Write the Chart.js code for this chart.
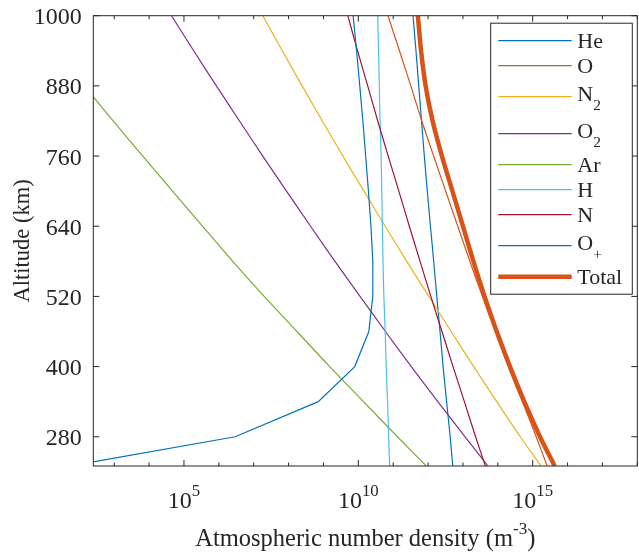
<!DOCTYPE html>
<html>
<head>
<meta charset="utf-8">
<script src="https://cdn.jsdelivr.net/npm/chart.js@4.4.1/dist/chart.umd.min.js"></script>
<style>
  html, body { margin: 0; padding: 0; background: #fff; }
  canvas { display: block; }
</style>
</head>
<body>
<canvas id="chart" width="639" height="554"></canvas>
<script>
// altitude grid (km), shared by every profile
const altitudes = [230, 280, 340, 400, 460, 520, 580, 640, 700, 760, 820, 880, 940, 1000];

// number densities (m^-3)
const nHe    = [5.1e12, 4.3e12, 3.4e12, 2.7e12, 2.2e12, 1.78e12, 1.45e12, 1.17e12, 9.5e11, 7.8e11, 6.5e11, 5.4e11, 4.5e11, 3.7e11];
const nO     = [2.6e15, 1.26e15, 5.1e14, 2.0e14, 8.5e13, 3.6e13, 1.58e13, 7.1e12, 3.2e12, 1.45e12, 6.6e11, 3.2e11, 1.51e11, 7.1e10];
const nN2    = [1.74e15, 4.4e14, 9.3e13, 2.04e13, 4.6e12, 1.05e12, 2.45e11, 5.9e10, 1.45e10, 3.6e9, 9.3e8, 2.45e8, 6.6e7, 1.82e7];
const nO2    = [5.2e13, 1.15e13, 1.9e12, 3.3e11, 6.0e10, 1.12e10, 2.14e9, 4.27e8, 8.7e7, 1.82e7, 3.9e6, 8.5e5, 1.9e5, 4.4e4];
const nAr    = [8.9e11, 1.32e11, 1.41e10, 1.51e9, 1.74e8, 2.0e7, 2.5e6, 3.4e5, 4.7e4, 6.6e3, 930, 138, 20, 2.9];
const nH     = [7.9e10, 7.4e10, 6.9e10, 6.3e10, 5.9e10, 5.4e10, 5.1e10, 4.9e10, 4.7e10, 4.5e10, 4.2e10, 4.0e10, 3.8e10, 3.6e10];
const nN     = [4.4e13, 2.3e13, 1.1e13, 5.2e12, 2.5e12, 1.2e12, 5.9e11, 2.9e11, 1.45e11, 7.2e10, 3.6e10, 1.86e10, 9.5e9, 5.0e9];
const nOplus = [54, 2.95e6, 7.1e8, 7.9e9, 2.0e10, 2.6e10, 2.6e10, 2.3e10, 1.95e10, 1.62e10, 1.35e10, 1.1e10, 8.9e9, 7.1e9];
const nTotal = [4.27e15, 1.62e15, 5.75e14, 2.24e14, 9.3e13, 4.17e13, 2.0e13, 1.0e13, 5.0e12, 2.5e12, 1.35e12, 8.5e11, 6.3e11, 5.1e11];

const speciesLabels = ['He', 'O', 'N_2', 'O_2', 'Ar', 'H', 'N', 'O_+', 'Total'];

// axis ticks
const xTickExponents = [5, 10, 15];
const yTicks = [280, 400, 520, 640, 760, 880, 1000];
const xRange = [Math.pow(10, 2.4), 1e18];
const yRange = [230, 1000];

const series = [nHe, nO, nN2, nO2, nAr, nH, nN, nOplus, nTotal];
const colors = ['#0072BD', '#D95319', '#EDB120', '#7E2F8E', '#77AC30', '#4DBEEE', '#A2142F', '#0072BD', '#D95319'];
// O+ profile has visible corners, keep it straight-segmented
const kinked = [false, false, false, false, false, false, false, true, false];

const axisColor = '#262626';
const serif = '"Liberation Serif", "Times New Roman", serif';

// tiny TeX-ish parser: handles ^{..} / _{..} / ^x / _x
function texRuns(str) {
  const runs = [];
  const re = /([_^])\{([^}]*)\}|([_^])(.)|([^_^]+)/g;
  let m;
  while ((m = re.exec(str))) {
    if (m[1]) runs.push({ t: m[2], mode: m[1] });
    else if (m[3]) runs.push({ t: m[4], mode: m[3] });
    else runs.push({ t: m[5], mode: '' });
  }
  return runs;
}

function drawTex(ctx, str, x, y, size, align) {
  const runs = texRuns(str);
  const small = size * 0.7;
  let w = 0;
  runs.forEach(r => {
    ctx.font = (r.mode ? small : size) + 'px ' + serif;
    r.w = ctx.measureText(r.t).width;
    w += r.w;
  });
  let cx = align === 'center' ? x - w / 2 : (align === 'right' ? x - w : x);
  ctx.textAlign = 'left';
  ctx.textBaseline = 'alphabetic';
  runs.forEach(r => {
    ctx.font = (r.mode ? small : size) + 'px ' + serif;
    const dy = r.mode === '^' ? -0.48 * size : (r.mode === '_' ? 0.42 * size : 0);
    ctx.fillText(r.t, cx, y + dy);
    cx += r.w;
  });
}

function seg(ctx, x1, y1, x2, y2) {
  ctx.beginPath();
  ctx.moveTo(x1, y1);
  ctx.lineTo(x2, y2);
  ctx.stroke();
}

const matlabAxes = {
  id: 'matlabAxes',
  beforeDraw(chart) {
    const ctx = chart.ctx;
    ctx.save();
    ctx.fillStyle = '#fff';
    ctx.fillRect(0, 0, chart.width, chart.height);
    ctx.restore();
  },
  afterDatasetsDraw(chart) {
    const { ctx, chartArea: a, scales: { x, y } } = chart;
    ctx.save();
    ctx.strokeStyle = axisColor;
    ctx.fillStyle = axisColor;
    ctx.lineWidth = 1;
    ctx.strokeRect(a.left, a.top, a.right - a.left, a.bottom - a.top);

    // decade ticks, inward, top and bottom
    const e0 = Math.ceil(Math.log10(xRange[0]));
    const e1 = Math.floor(Math.log10(xRange[1]));
    for (let e = e0; e <= e1; e++) {
      const px = x.getPixelForValue(Math.pow(10, e));
      const len = xTickExponents.includes(e) ? 6 : 3.5;
      seg(ctx, px, a.bottom, px, a.bottom - len);
      seg(ctx, px, a.top, px, a.top + len);
    }
    yTicks.forEach(v => {
      const py = y.getPixelForValue(v);
      seg(ctx, a.left, py, a.left + 6, py);
      seg(ctx, a.right, py, a.right - 6, py);
    });

    // tick labels
    xTickExponents.forEach(e => {
      drawTex(ctx, '10^{' + e + '}', x.getPixelForValue(Math.pow(10, e)), a.bottom + 42, 24, 'center');
    });
    ctx.font = '24px ' + serif;
    ctx.textAlign = 'right';
    ctx.textBaseline = 'alphabetic';
    yTicks.forEach(v => {
      ctx.fillText(String(v), a.left - 11.5, y.getPixelForValue(v) + 8.5);
    });

    // axis titles
    drawTex(ctx, 'Atmospheric number density (m^{-3})', (a.left + a.right) / 2, 546, 24.5, 'center');
    ctx.save();
    ctx.translate(28.5, (a.top + a.bottom) / 2);
    ctx.rotate(-Math.PI / 2);
    ctx.font = '22.5px ' + serif;
    ctx.textAlign = 'center';
    ctx.textBaseline = 'alphabetic';
    ctx.fillText('Altitude (km)', 0, 0);
    ctx.restore();

    // legend box, top right inside the axes
    const heights = speciesLabels.map(l => (l.indexOf('_') >= 0 ? 37 : 25));
    const centers = [];
    let c = 40.7;
    heights.forEach((h, i) => {
      if (i > 0) c += (heights[i - 1] + h) / 2;
      centers.push(c);
    });
    const boxL = 490.7, boxR = a.right - 5;
    const boxT = centers[0] - heights[0] / 2 - 5;
    const boxB = centers[centers.length - 1] + heights[heights.length - 1] / 2 + 5;
    ctx.fillStyle = '#fff';
    ctx.fillRect(boxL, boxT, boxR - boxL, boxB - boxT);
    ctx.strokeStyle = axisColor;
    ctx.lineWidth = 1;
    ctx.strokeRect(boxL, boxT, boxR - boxL, boxB - boxT);
    chart.data.datasets.forEach((ds, i) => {
      const cy = centers[i];
      ctx.strokeStyle = ds.borderColor;
      ctx.lineWidth = ds.borderWidth;
      seg(ctx, boxL + 7.6, cy, boxL + 81, cy);
      ctx.fillStyle = axisColor;
      const sub = speciesLabels[i].indexOf('_') >= 0;
      drawTex(ctx, speciesLabels[i], boxL + 86.6, cy + (sub ? 4.5 : 7.5), 22, 'left');
    });
    ctx.restore();
  }
};

const datasets = series.map((vals, i) => ({
  label: speciesLabels[i],
  data: vals.map((v, k) => ({ x: v, y: altitudes[k] })),
  borderColor: colors[i],
  borderWidth: i === series.length - 1 ? 4.5 : 1.2,
  pointRadius: 0,
  showLine: true,
  fill: false,
  tension: kinked[i] ? 0 : 0.3,
  clip: 0,
  order: series.length - i
}));

new Chart(document.getElementById('chart'), {
  type: 'scatter',
  data: { datasets: datasets },
  options: {
    responsive: false,
    animation: false,
    events: [],
    layout: { padding: { left: 93.3, right: 1.7, top: 15.7, bottom: 88 } },
    elements: { line: { capBezierPoints: false } },
    plugins: { legend: { display: false }, tooltip: { enabled: false }, title: { display: false } },
    scales: {
      x: { type: 'logarithmic', min: xRange[0], max: xRange[1], display: false },
      y: { type: 'linear', min: yRange[0], max: yRange[1], display: false }
    }
  },
  plugins: [matlabAxes]
});
</script>
</body>
</html>
